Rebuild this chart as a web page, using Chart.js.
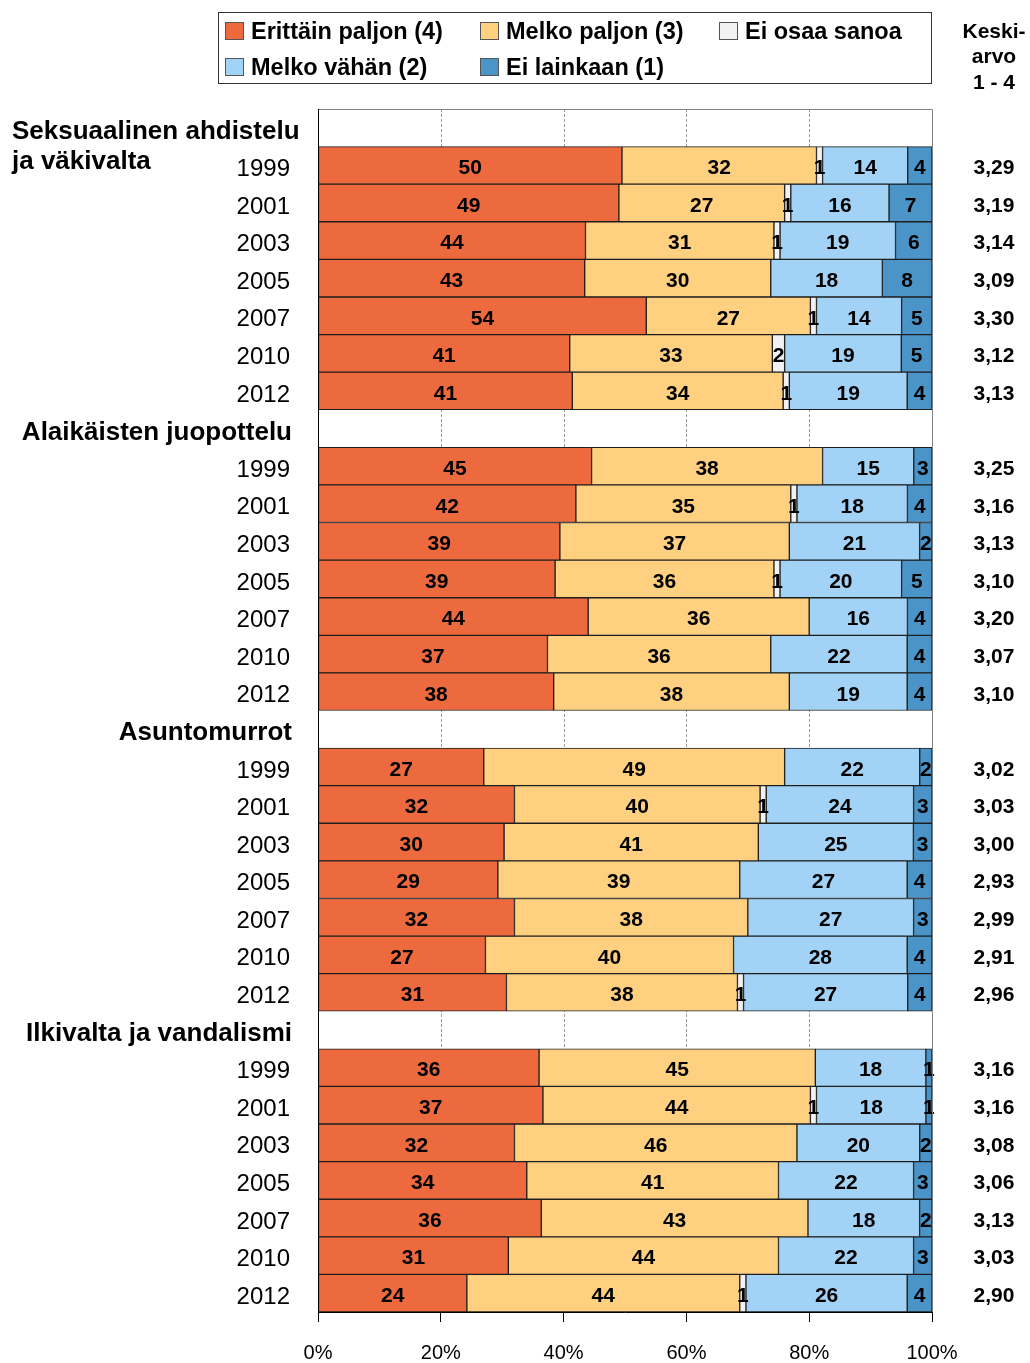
<!DOCTYPE html>
<html>
<head>
<meta charset="utf-8">
<script src="https://cdn.jsdelivr.net/npm/chart.js@4.4.0/dist/chart.umd.min.js"></script>
<style>
html, body { margin: 0; padding: 0; background: #fff; }
canvas { display: block; }
</style>
</head>
<body>
<canvas id="kaavio" width="1030" height="1363"></canvas>
<script>
// ryhmät ja vuodet
var ryhmat = ['Seksuaalinen ahdistelu\nja väkivalta', 'Alaikäisten juopottelu', 'Asuntomurrot', 'Ilkivalta ja vandalismi'];
var vuodet = ['1999', '2001', '2003', '2005', '2007', '2010', '2012'];
var sarjat = ['Erittäin paljon (4)', 'Melko paljon (3)', 'Ei osaa sanoa', 'Melko vähän (2)', 'Ei lainkaan (1)'];
var varit = ['#ED6A3F', '#FFD07F', '#F2F2F2', '#A2D3F6', '#4A94C8'];

// prosentit, 7 vuotta per ryhmä
var erittainPaljon = [50, 49, 44, 43, 54, 41, 41, 45, 42, 39, 39, 44, 37, 38, 27, 32, 30, 29, 32, 27, 31, 36, 37, 32, 34, 36, 31, 24];
var melkoPaljon = [32, 27, 31, 30, 27, 33, 34, 38, 35, 37, 36, 36, 36, 38, 49, 40, 41, 39, 38, 40, 38, 45, 44, 46, 41, 43, 44, 44];
var eiOsaaSanoa = [1, 1, 1, 0, 1, 2, 1, 0, 1, 0, 1, 0, 0, 0, 0, 1, 0, 0, 0, 0, 1, 0, 1, 0, 0, 0, 0, 1];
var melkoVahan = [14, 16, 19, 18, 14, 19, 19, 15, 18, 21, 20, 16, 22, 19, 22, 24, 25, 27, 27, 28, 27, 18, 18, 20, 22, 18, 22, 26];
var eiLainkaan = [4, 7, 6, 8, 5, 5, 4, 3, 4, 2, 5, 4, 4, 4, 2, 3, 3, 4, 3, 4, 4, 1, 1, 2, 3, 2, 3, 4];
var keskiarvo = ['3,29', '3,19', '3,14', '3,09', '3,30', '3,12', '3,13',
                 '3,25', '3,16', '3,13', '3,10', '3,20', '3,07', '3,10',
                 '3,02', '3,03', '3,00', '2,93', '2,99', '2,91', '2,96',
                 '3,16', '3,16', '3,08', '3,06', '3,13', '3,03', '2,90'];
var xTikit = [0, 20, 40, 60, 80, 100];

var fontti = "'Liberation Sans', Arial, sans-serif";
Chart.defaults.font.family = fontti;

var sarjaData = [erittainPaljon, melkoPaljon, eiOsaaSanoa, melkoVahan, eiLainkaan];

// rivit: otsikkorivi + vuodet jokaiselle ryhmälle
var rivit = [];
ryhmat.forEach(function (r, g) {
    rivit.push({ ryhma: g, vuosi: null, i: -1 });
    vuodet.forEach(function (v, k) {
        rivit.push({ ryhma: g, vuosi: v, i: g * 7 + k });
    });
});

function summa(i) {
    var s = 0;
    for (var k = 0; k < sarjaData.length; k++) s += sarjaData[k][i];
    return s;
}

var datasets = sarjat.map(function (nimi, s) {
    return {
        label: nimi,
        data: rivit.map(function (r) {
            if (r.i < 0 || !sarjaData[s][r.i]) return null;
            return sarjaData[s][r.i] * 100 / summa(r.i);
        }),
        arvot: rivit.map(function (r) { return r.i < 0 ? null : sarjaData[s][r.i]; }),
        backgroundColor: varit[s],
        borderColor: '#1e1e1e',
        borderWidth: 1,
        borderSkipped: false,
        barPercentage: 1,
        categoryPercentage: 1
    };
});

var taustaPlugin = {
    id: 'tausta',
    beforeDatasetsDraw: function (chart) {
        var ctx = chart.ctx, a = chart.chartArea, x = chart.scales.x;
        ctx.save();
        ctx.strokeStyle = '#9a9a9a';
        ctx.lineWidth = 1;
        ctx.setLineDash([3, 2]);
        [20, 40, 60, 80].forEach(function (t) {
            var px = Math.round(x.getPixelForValue(t)) + 0.5;
            ctx.beginPath();
            ctx.moveTo(px, a.top);
            ctx.lineTo(px, a.bottom);
            ctx.stroke();
        });
        ctx.restore();
    }
};

var tekstiPlugin = {
    id: 'tekstit',
    afterDatasetsDraw: function (chart) {
        var ctx = chart.ctx, a = chart.chartArea, y = chart.scales.y;
        ctx.save();

        // arvot palkkien päällä
        ctx.fillStyle = '#000';
        ctx.font = 'bold 21px ' + fontti;
        ctx.textAlign = 'center';
        ctx.textBaseline = 'middle';
        chart.data.datasets.forEach(function (ds, s) {
            var meta = chart.getDatasetMeta(s);
            meta.data.forEach(function (el, i) {
                var v = ds.arvot[i];
                if (!v) return;
                var p = el.getProps(['x', 'base', 'y'], true);
                ctx.fillText(String(v), (p.x + p.base) / 2, p.y + 3);
            });
        });

        // kehys
        ctx.strokeStyle = '#808080';
        ctx.lineWidth = 1;
        ctx.beginPath();
        ctx.moveTo(a.left, a.top + 0.5);
        ctx.lineTo(a.right + 0.5, a.top + 0.5);
        ctx.lineTo(a.right + 0.5, a.bottom);
        ctx.stroke();
        ctx.strokeStyle = '#000';
        ctx.beginPath();
        ctx.moveTo(a.left + 0.5, a.top);
        ctx.lineTo(a.left + 0.5, a.bottom);
        ctx.stroke();

        // y-akselin tekstit
        rivit.forEach(function (r, i) {
            var py = y.getPixelForValue(i);
            if (r.vuosi) {
                ctx.font = '24px ' + fontti;
                ctx.textAlign = 'right';
                ctx.fillText(r.vuosi, 290, py + 4);
                ctx.font = 'bold 21px ' + fontti;
                ctx.textAlign = 'center';
                ctx.fillText(keskiarvo[r.i], 994, py + 3);
            } else {
                ctx.font = 'bold 26px ' + fontti;
                var rivit2 = ryhmat[r.ryhma].split('\n');
                if (rivit2.length > 1) {
                    ctx.textAlign = 'left';
                    rivit2.forEach(function (t, k) {
                        ctx.fillText(t, 12, py + 4 + k * 30);
                    });
                } else {
                    ctx.textAlign = 'right';
                    ctx.fillText(rivit2[0], 292, py + 4);
                }
            }
        });

        // keskiarvo-otsikko
        ctx.font = 'bold 21px ' + fontti;
        ctx.textAlign = 'center';
        ctx.fillText('Keski-', 994, 32);
        ctx.fillText('arvo', 994, 57);
        ctx.fillText('1 - 4', 994, 83);

        // selite
        ctx.strokeStyle = '#333';
        ctx.strokeRect(218.5, 12.5, 713, 71);
        var paikat = [[225, 31], [480, 31], [719, 31], [225, 67], [480, 67]];
        ctx.font = 'bold 23.5px ' + fontti;
        ctx.textAlign = 'left';
        sarjat.forEach(function (nimi, s) {
            var px = paikat[s][0], py = paikat[s][1];
            ctx.fillStyle = varit[s];
            ctx.fillRect(px, py - 9, 19, 18);
            ctx.strokeStyle = '#555';
            ctx.strokeRect(px + 0.5, py - 8.5, 18, 17);
            ctx.fillStyle = '#000';
            ctx.fillText(nimi, px + 26, py + 2);
        });

        ctx.restore();
    }
};

new Chart(document.getElementById('kaavio'), {
    type: 'bar',
    data: {
        labels: rivit.map(function (r) { return r.vuosi ? r.vuosi : ryhmat[r.ryhma]; }),
        datasets: datasets
    },
    options: {
        indexAxis: 'y',
        responsive: false,
        animation: false,
        layout: { padding: { top: 109, left: 318, right: 98, bottom: 0 } },
        plugins: {
            legend: { display: false },
            tooltip: { enabled: false }
        },
        scales: {
            x: {
                type: 'linear',
                stacked: true,
                min: 0,
                max: 100,
                afterBuildTicks: function (s) {
                    s.ticks = xTikit.map(function (v) { return { value: v }; });
                },
                ticks: {
                    color: '#000',
                    font: { size: 20 },
                    padding: 19,
                    maxRotation: 0,
                    callback: function (v) { return v + '%'; }
                },
                grid: {
                    drawOnChartArea: false,
                    drawTicks: true,
                    tickLength: 10,
                    tickColor: '#000',
                    tickWidth: 1
                },
                border: { color: '#000', width: 1 },
                afterFit: function (s) { s.height = 51; }
            },
            y: {
                type: 'category',
                stacked: true,
                display: false
            }
        }
    },
    plugins: [taustaPlugin, tekstiPlugin]
});
</script>
</body>
</html>
